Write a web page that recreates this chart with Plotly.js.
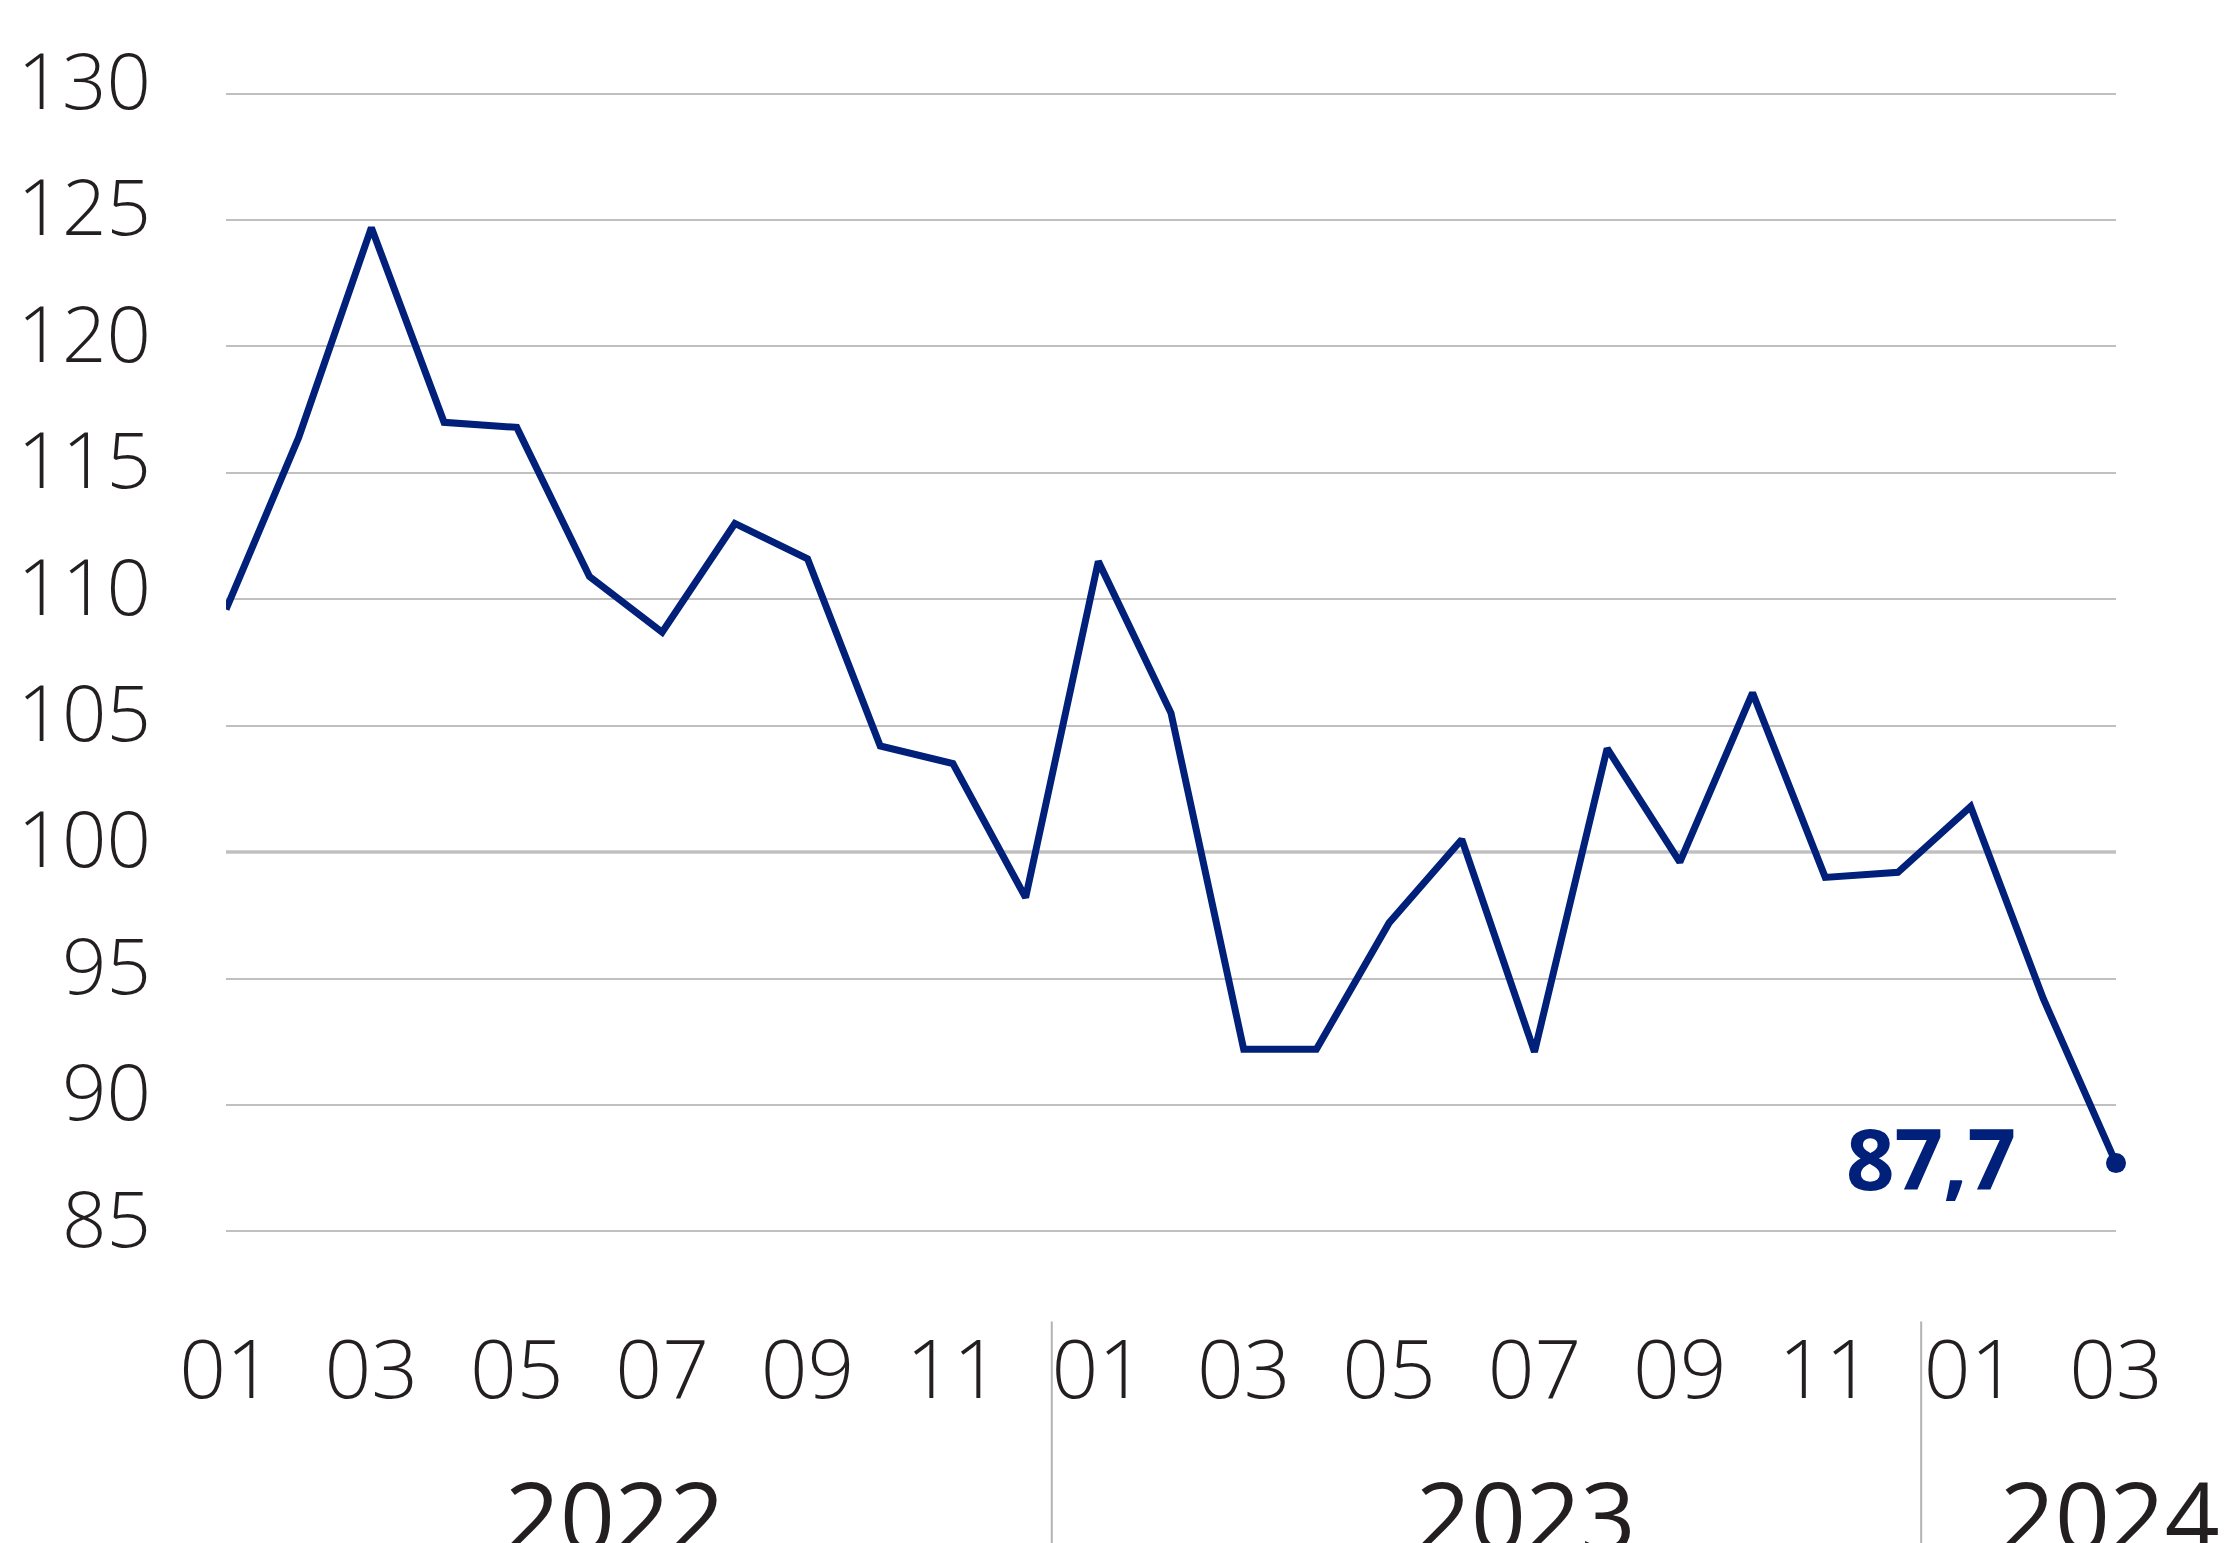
<!DOCTYPE html>
<html>
<head>
<meta charset="utf-8">
<script src="https://cdn.plot.ly/plotly-3.0.1.min.js"></script>
<style>html,body{margin:0;padding:0;background:#fff;}#chart{width:2230px;height:1543px;}</style>
</head>
<body>
<div id="chart"></div>
<script>
// ---- data ----
const months = ['01','02','03','04','05','06','07','08','09','10','11','12',
                '01','02','03','04','05','06','07','08','09','10','11','12',
                '01','02','03'];
const years  = [2022,2022,2022,2022,2022,2022,2022,2022,2022,2022,2022,2022,
                2023,2023,2023,2023,2023,2023,2023,2023,2023,2023,2023,2023,
                2024,2024,2024];
const values = [109.6,116.4,124.7,117.0,116.8,110.9,108.7,113.0,111.6,104.2,103.5,98.2,
                111.5,105.5,92.2,92.2,97.2,100.5,92.1,104.1,99.6,106.3,99.0,99.2,
                101.8,94.2,87.7];
const yTicks = [85,90,95,100,105,110,115,120,125,130];
const yearLabels = ['2022','2023','2024'];
const lastLabel = '87,7';

// ---- derived ----
const cats = months.map((m,i) => years[i] + '-' + m);
const tickCats = cats.filter((c,i) => parseInt(months[i],10) % 2 === 1);
const tickText = months.filter(m => parseInt(m,10) % 2 === 1);
const navy = '#00207a';
const textCol = '#231f20';

const traces = [
  {
    x: cats, y: values, type: 'scatter', mode: 'lines',
    line: {color: navy, width: 7, shape: 'linear'},
    cliponaxis: false, hoverinfo: 'skip', showlegend: false
  },
  {
    x: [cats[cats.length-1]], y: [values[values.length-1]],
    type: 'scatter', mode: 'markers',
    marker: {color: navy, size: 20},
    cliponaxis: false, hoverinfo: 'skip', showlegend: false
  }
];

// year label positions (category index units) and separators
const yearPos = [5.35, 17.88, 25.92];
const sepPos = [11.36, 23.32];

const annotations = yearLabels.map((t,k) => ({
  text: t, x: yearPos[k], xref: 'x', y: -0.232, yref: 'paper',
  xanchor: 'center', yanchor: 'middle', showarrow: false,
  font: {family: 'Open Sans', size: 96, color: textCol, weight: 400}
}));
annotations.push({
  text: '<b>' + lastLabel + '</b>',
  x: cats[cats.length-1], y: values[values.length-1], xref: 'x', yref: 'y',
  xanchor: 'right', yanchor: 'middle', xshift: -98, yshift: 6, showarrow: false,
  font: {family: 'Open Sans', size: 85, color: navy, weight: 700}
});

const shapes = sepPos.map(p => ({
  type: 'line', xref: 'x', yref: 'paper', x0: p, x1: p, y0: -0.0666, y1: -0.27,
  line: {color: '#b3b3b3', width: 2}
}));
shapes.push({
  type: 'line', xref: 'paper', yref: 'y', x0: 0, x1: 1, y0: 100, y1: 100,
  layer: 'below', line: {color: '#a3a3a3', width: 3}
});

const layout = {
  width: 2230, height: 1543,
  margin: {l: 226, r: 114, t: 81, b: 299, pad: 0},
  paper_bgcolor: '#ffffff', plot_bgcolor: '#ffffff',
  showlegend: false,
  xaxis: {
    type: 'category', categoryorder: 'array', categoryarray: cats,
    range: [0, cats.length - 1],
    tickvals: tickCats, ticktext: tickText,
    showgrid: false, zeroline: false, showline: false, ticks: '',
    ticklabelstandoff: 71,
    tickfont: {family: 'Open Sans', size: 82, color: textCol, weight: 300}
  },
  yaxis: {
    range: [84.5, 130.5], tickvals: yTicks, ticktext: yTicks.map(String),
    showgrid: true, gridcolor: '#c0c0c0', gridwidth: 2,
    zeroline: false, showline: false, ticks: '',
    ticklabelstandoff: 74, ticklabelshift: -12,
    tickfont: {family: 'Open Sans', size: 78, color: textCol, weight: 300}
  },
  annotations: annotations,
  shapes: shapes
};

Plotly.newPlot('chart', traces, layout, {staticPlot: true, displayModeBar: false});
</script>
</body>
</html>
